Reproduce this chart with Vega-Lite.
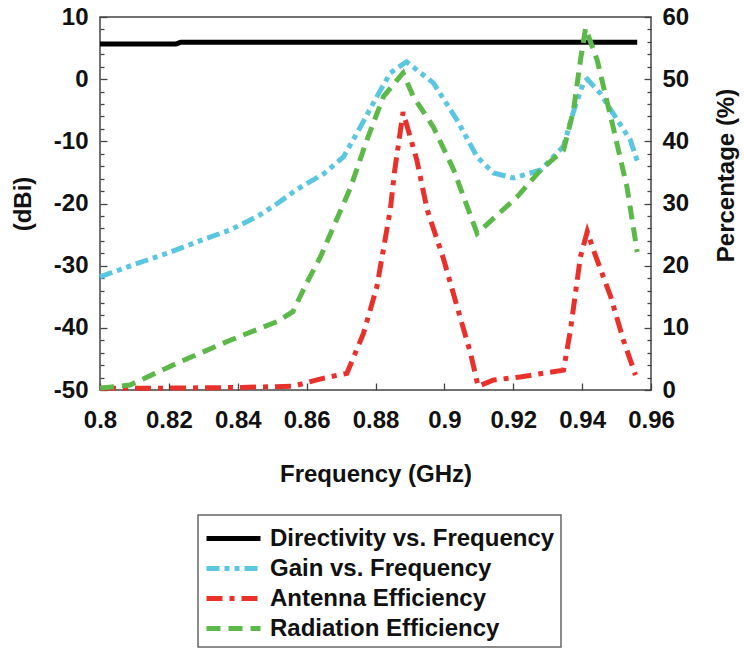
{
  "$schema": "https://vega.github.io/schema/vega-lite/v6.json",
  "width": 551,
  "height": 373,
  "autosize": {"type": "none"},
  "padding": {"left": 100, "top": 17, "right": 93, "bottom": 261},
  "config": {
    "font": "Liberation Sans",
    "view": {"stroke": "#444", "strokeWidth": 1.5},
    "axis": {
      "grid": false,
      "domain": false,
      "labelFont": "Liberation Sans",
      "labelFontSize": 24,
      "labelFontWeight": "bold",
      "labelColor": "#111",
      "titleFont": "Liberation Sans",
      "titleFontSize": 24,
      "titleFontWeight": "bold",
      "titleColor": "#111",
      "tickColor": "#444",
      "tickWidth": 1.3
    },
    "legend": {
      "orient": "none",
      "legendX": 98,
      "legendY": 498,
      "direction": "vertical",
      "strokeColor": "#666",
      "strokeWidth": 1.5,
      "padding": 6,
      "labelFont": "Liberation Sans",
      "labelFontSize": 24,
      "labelFontWeight": "bold",
      "labelColor": "#111",
      "labelLimit": 400,
      "labelOffset": 31,
      "rowPadding": 0,
      "symbolType": "M-1,0H2.6",
      "symbolSize": 900,
      "symbolStrokeWidth": 5
    }
  },
  "datasets": {
    "dbi": [
      {"f": 0.8, "v": 5.65, "s": "Directivity vs. Frequency"},
      {"f": 0.822, "v": 5.65, "s": "Directivity vs. Frequency"},
      {"f": 0.8235, "v": 5.95, "s": "Directivity vs. Frequency"},
      {"f": 0.956, "v": 5.95, "s": "Directivity vs. Frequency"},
      {"f": 0.8, "v": -31.8, "s": "Gain vs. Frequency"},
      {"f": 0.81, "v": -29.8, "s": "Gain vs. Frequency"},
      {"f": 0.82, "v": -27.9, "s": "Gain vs. Frequency"},
      {"f": 0.83, "v": -25.8, "s": "Gain vs. Frequency"},
      {"f": 0.838, "v": -24.2, "s": "Gain vs. Frequency"},
      {"f": 0.846, "v": -22.0, "s": "Gain vs. Frequency"},
      {"f": 0.852, "v": -19.8, "s": "Gain vs. Frequency"},
      {"f": 0.857, "v": -17.8, "s": "Gain vs. Frequency"},
      {"f": 0.865, "v": -15.2, "s": "Gain vs. Frequency"},
      {"f": 0.8707, "v": -12.5, "s": "Gain vs. Frequency"},
      {"f": 0.8746, "v": -8.7, "s": "Gain vs. Frequency"},
      {"f": 0.8804, "v": -2.8, "s": "Gain vs. Frequency"},
      {"f": 0.8843, "v": 1.0, "s": "Gain vs. Frequency"},
      {"f": 0.889, "v": 2.8, "s": "Gain vs. Frequency"},
      {"f": 0.8968, "v": -0.6, "s": "Gain vs. Frequency"},
      {"f": 0.9037, "v": -6.6, "s": "Gain vs. Frequency"},
      {"f": 0.9095, "v": -12.5, "s": "Gain vs. Frequency"},
      {"f": 0.9143, "v": -15.1, "s": "Gain vs. Frequency"},
      {"f": 0.92, "v": -15.9, "s": "Gain vs. Frequency"},
      {"f": 0.928, "v": -14.6, "s": "Gain vs. Frequency"},
      {"f": 0.9346, "v": -10.8, "s": "Gain vs. Frequency"},
      {"f": 0.9376, "v": -5.0, "s": "Gain vs. Frequency"},
      {"f": 0.9405, "v": -0.4, "s": "Gain vs. Frequency"},
      {"f": 0.9415, "v": 0.0, "s": "Gain vs. Frequency"},
      {"f": 0.9453, "v": -2.3, "s": "Gain vs. Frequency"},
      {"f": 0.949, "v": -5.5, "s": "Gain vs. Frequency"},
      {"f": 0.954, "v": -9.8, "s": "Gain vs. Frequency"},
      {"f": 0.9564, "v": -13.8, "s": "Gain vs. Frequency"}
    ],
    "pct": [
      {"f": 0.8, "v": 0.3, "s": "Antenna Efficiency"},
      {"f": 0.82, "v": 0.3, "s": "Antenna Efficiency"},
      {"f": 0.84, "v": 0.4, "s": "Antenna Efficiency"},
      {"f": 0.856, "v": 0.6, "s": "Antenna Efficiency"},
      {"f": 0.865, "v": 1.9, "s": "Antenna Efficiency"},
      {"f": 0.8717, "v": 2.7, "s": "Antenna Efficiency"},
      {"f": 0.8765, "v": 9.1, "s": "Antenna Efficiency"},
      {"f": 0.8804, "v": 16.6, "s": "Antenna Efficiency"},
      {"f": 0.8843, "v": 29.0, "s": "Antenna Efficiency"},
      {"f": 0.8855, "v": 35.0, "s": "Antenna Efficiency"},
      {"f": 0.888, "v": 44.7, "s": "Antenna Efficiency"},
      {"f": 0.892, "v": 37.0, "s": "Antenna Efficiency"},
      {"f": 0.895, "v": 29.0, "s": "Antenna Efficiency"},
      {"f": 0.8998, "v": 21.0, "s": "Antenna Efficiency"},
      {"f": 0.9037, "v": 13.4, "s": "Antenna Efficiency"},
      {"f": 0.9076, "v": 5.9, "s": "Antenna Efficiency"},
      {"f": 0.9098, "v": 0.6, "s": "Antenna Efficiency"},
      {"f": 0.9143, "v": 1.6, "s": "Antenna Efficiency"},
      {"f": 0.922, "v": 2.1, "s": "Antenna Efficiency"},
      {"f": 0.9346, "v": 3.2, "s": "Antenna Efficiency"},
      {"f": 0.9366, "v": 9.6, "s": "Antenna Efficiency"},
      {"f": 0.9395, "v": 21.4, "s": "Antenna Efficiency"},
      {"f": 0.9415, "v": 25.5, "s": "Antenna Efficiency"},
      {"f": 0.9433, "v": 22.5, "s": "Antenna Efficiency"},
      {"f": 0.9483, "v": 15.0, "s": "Antenna Efficiency"},
      {"f": 0.952, "v": 8.0, "s": "Antenna Efficiency"},
      {"f": 0.9555, "v": 2.4, "s": "Antenna Efficiency"},
      {"f": 0.8, "v": 0.3, "s": "Radiation Efficiency"},
      {"f": 0.8087, "v": 0.8, "s": "Radiation Efficiency"},
      {"f": 0.8223, "v": 4.3, "s": "Radiation Efficiency"},
      {"f": 0.8378, "v": 8.0, "s": "Radiation Efficiency"},
      {"f": 0.8514, "v": 11.0, "s": "Radiation Efficiency"},
      {"f": 0.856, "v": 12.6, "s": "Radiation Efficiency"},
      {"f": 0.86, "v": 17.2, "s": "Radiation Efficiency"},
      {"f": 0.864, "v": 21.4, "s": "Radiation Efficiency"},
      {"f": 0.8727, "v": 32.5, "s": "Radiation Efficiency"},
      {"f": 0.8775, "v": 40.2, "s": "Radiation Efficiency"},
      {"f": 0.8823, "v": 47.2, "s": "Radiation Efficiency"},
      {"f": 0.888, "v": 51.0, "s": "Radiation Efficiency"},
      {"f": 0.891, "v": 47.2, "s": "Radiation Efficiency"},
      {"f": 0.8968, "v": 42.3, "s": "Radiation Efficiency"},
      {"f": 0.9027, "v": 35.4, "s": "Radiation Efficiency"},
      {"f": 0.9095, "v": 25.2, "s": "Radiation Efficiency"},
      {"f": 0.921, "v": 31.0, "s": "Radiation Efficiency"},
      {"f": 0.928, "v": 35.4, "s": "Radiation Efficiency"},
      {"f": 0.9346, "v": 38.6, "s": "Radiation Efficiency"},
      {"f": 0.9375, "v": 45.0, "s": "Radiation Efficiency"},
      {"f": 0.9395, "v": 53.0, "s": "Radiation Efficiency"},
      {"f": 0.941, "v": 58.2, "s": "Radiation Efficiency"},
      {"f": 0.9444, "v": 53.0, "s": "Radiation Efficiency"},
      {"f": 0.949, "v": 42.3, "s": "Radiation Efficiency"},
      {"f": 0.953, "v": 32.7, "s": "Radiation Efficiency"},
      {"f": 0.956, "v": 22.2, "s": "Radiation Efficiency"}
    ]
  },
  "encoding": {
    "x": {
      "field": "f",
      "type": "quantitative",
      "scale": {"domain": [0.8, 0.96], "nice": false, "zero": false},
      "axis": {
        "title": "Frequency (GHz)",
        "values": [0.8, 0.82, 0.84, 0.86, 0.88, 0.9, 0.92, 0.94, 0.96],
        "format": ".2~f",
        "tickSize": -7,
        "labelPadding": 25,
        "labelFlush": false,
        "titlePadding": 30
      }
    },
    "color": {
      "field": "s",
      "type": "nominal",
      "title": null,
      "scale": {
        "domain": ["Directivity vs. Frequency", "Gain vs. Frequency", "Antenna Efficiency", "Radiation Efficiency"],
        "range": ["#000000", "#5BC6DF", "#E8312B", "#5CB848"]
      }
    },
    "strokeDash": {
      "field": "s",
      "type": "nominal",
      "title": null,
      "scale": {
        "domain": ["Directivity vs. Frequency", "Gain vs. Frequency", "Antenna Efficiency", "Radiation Efficiency"],
        "range": [[1, 0], [13, 5, 5, 5, 5, 5], [16, 7, 5, 7], [14, 8]]
      }
    }
  },
  "layer": [
    {
      "data": {"name": "dbi"},
      "mark": {"type": "line", "strokeWidth": 5},
      "encoding": {
        "y": {
          "field": "v",
          "type": "quantitative",
          "scale": {"domain": [-50, 10], "nice": false, "zero": false},
          "axis": {
            "orient": "left",
            "title": "(dBi)",
            "values": [-50, -48, -46, -44, -42, -40, -38, -36, -34, -32, -30, -28, -26, -24, -22, -20, -18, -16, -14, -12, -10, -8, -6, -4, -2, 0, 2, 4, 6, 8, 10],
            "labelExpr": "datum.value % 10 === 0 ? toString(datum.value) : ''",
            "tickSize": {"condition": {"test": "datum.value % 10 === 0", "value": -7}, "value": -4},
            "labelPadding": 19,
            "labelFlush": false,
            "titlePadding": 18
          }
        }
      }
    },
    {
      "data": {"name": "pct"},
      "mark": {"type": "line", "strokeWidth": 5},
      "encoding": {
        "y": {
          "field": "v",
          "type": "quantitative",
          "scale": {"domain": [0, 60], "nice": false, "zero": false},
          "axis": {
            "orient": "right",
            "title": "Percentage (%)",
            "titleAngle": -90,
            "values": [0, 2, 4, 6, 8, 10, 12, 14, 16, 18, 20, 22, 24, 26, 28, 30, 32, 34, 36, 38, 40, 42, 44, 46, 48, 50, 52, 54, 56, 58, 60],
            "labelExpr": "datum.value % 10 === 0 ? toString(datum.value) : ''",
            "tickSize": {"condition": {"test": "datum.value % 10 === 0", "value": -7}, "value": -4},
            "labelPadding": 18,
            "labelFlush": false,
            "titlePadding": 50,
            "titleY": 158
          }
        }
      }
    }
  ],
  "resolve": {"scale": {"y": "independent"}}
}
